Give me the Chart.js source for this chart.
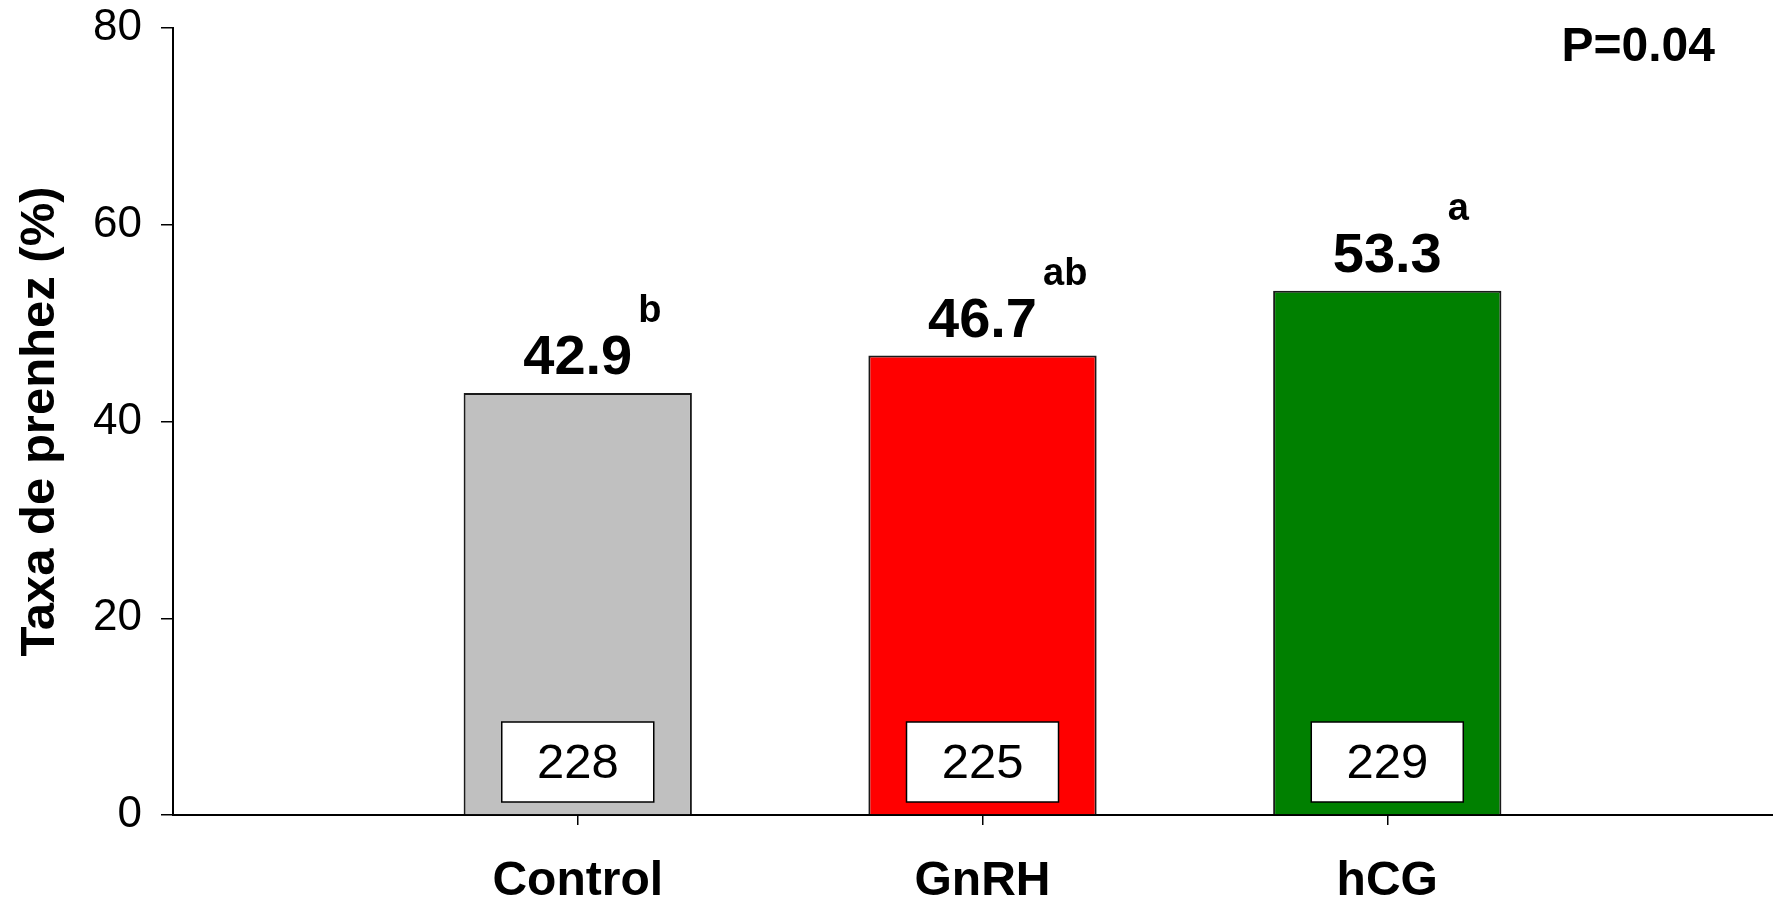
<!DOCTYPE html>
<html>
<head>
<meta charset="utf-8">
<title>Taxa de prenhez</title>
<script src="https://cdn.jsdelivr.net/npm/chart.js@4/dist/chart.umd.min.js"></script>
<style>
    html, body { margin: 0; padding: 0; background: #ffffff; }
    #chart { display: block; }
</style>
</head>
<body>
<canvas id="chart" width="1773" height="901"></canvas>
<script>
// 데이터
const categories = ['Control', 'GnRH', 'hCG'];
const pregnancyRate = [42.9, 46.7, 53.3];
const letters = ['b', 'ab', 'a'];
const counts = [228, 225, 229];
const barColors = ['#c0c0c0', '#ff0000', '#008000'];
const yTicks = [0, 20, 40, 60, 80];
const pValueText = 'P=0.04';

const FONT = '"Liberation Sans", Arial, sans-serif';

// 막대 위 주석 (값, 유의성 문자, n 상자)
const annotatePlugin = {
    id: 'annotate',
    afterDatasetsDraw(chart) {
        const ctx = chart.ctx;
        const meta = chart.getDatasetMeta(0);
        const base = chart.scales.y.getPixelForValue(0);
        ctx.save();
        meta.data.forEach((bar, i) => {
            // 값 라벨
            const valueText = pregnancyRate[i].toFixed(1);
            ctx.font = 'bold 56px ' + FONT;
            ctx.fillStyle = '#000';
            ctx.textAlign = 'center';
            ctx.textBaseline = 'alphabetic';
            const valueY = bar.y - 19;
            ctx.fillText(valueText, bar.x, valueY);
            const w = ctx.measureText(valueText).width;

            // 유의성 문자
            ctx.font = 'bold 38px ' + FONT;
            ctx.textAlign = 'left';
            ctx.fillText(letters[i], bar.x + w / 2 + 6, valueY - 52);

            // n 상자
            const boxW = 152, boxH = 80;
            const boxBottom = base - 13;
            ctx.fillStyle = '#fff';
            ctx.strokeStyle = '#000';
            ctx.lineWidth = 1.5;
            ctx.fillRect(bar.x - boxW / 2, boxBottom - boxH, boxW, boxH);
            ctx.strokeRect(bar.x - boxW / 2, boxBottom - boxH, boxW, boxH);
            ctx.fillStyle = '#000';
            ctx.font = '49px ' + FONT;
            ctx.textAlign = 'center';
            ctx.textBaseline = 'middle';
            ctx.fillText(String(counts[i]), bar.x, boxBottom - boxH / 2 + 2);
        });

        // P 값
        const area = chart.chartArea;
        ctx.font = 'bold 48px ' + FONT;
        ctx.fillStyle = '#000';
        ctx.textAlign = 'right';
        ctx.textBaseline = 'alphabetic';
        ctx.fillText(pValueText, area.right - 58, area.top + 33);
        ctx.restore();
    }
};

const ctx = document.getElementById('chart');
new Chart(ctx, {
    type: 'bar',
    data: {
        datasets: [{
            data: pregnancyRate.map((v, i) => ({ x: i + 1, y: v })),
            backgroundColor: barColors,
            borderColor: '#1a1a1a',
            borderWidth: 2,
            categoryPercentage: 1,
            barPercentage: 0.564
        }]
    },
    options: {
        responsive: false,
        animation: false,
        devicePixelRatio: 1,
        layout: {
            padding: { left: 11, top: 28, right: 0, bottom: 0 }
        },
        plugins: {
            legend: { display: false },
            tooltip: { enabled: false }
        },
        scales: {
            x: {
                type: 'linear',
                offset: false,
                min: 0,
                max: 3.953,
                afterBuildTicks: (scale) => {
                    scale.ticks = categories.map((c, i) => ({ value: i + 1 }));
                },
                afterFit: (scale) => {
                    scale.height = 86;
                },
                ticks: {
                    callback: (v) => categories[v - 1],
                    color: '#000',
                    padding: 33,
                    maxRotation: 0,
                    font: { family: FONT, size: 48, weight: 'bold', lineHeight: 1.0 }
                },
                grid: {
                    offset: false,
                    drawOnChartArea: false,
                    tickLength: 10,
                    color: '#000',
                    lineWidth: 1.5
                },
                border: { display: true, color: '#000', width: 2 }
            },
            y: {
                min: 0,
                max: 80,
                afterBuildTicks: (scale) => {
                    scale.ticks = yTicks.map(v => ({ value: v }));
                },
                afterFit: (scale) => {
                    scale.width = 162;
                    scale.paddingTop = 0;
                    scale.paddingBottom = 0;
                },
                ticks: {
                    color: '#000',
                    padding: 19,
                    font: { family: FONT, size: 44 }
                },
                grid: {
                    drawOnChartArea: false,
                    tickLength: 12,
                    color: '#000',
                    lineWidth: 1.5
                },
                border: { display: true, color: '#000', width: 2 },
                title: {
                    display: true,
                    text: 'Taxa de prenhez (%)',
                    color: '#000',
                    padding: { top: 0, bottom: 6 },
                    font: { family: FONT, size: 49, weight: 'bold' }
                }
            }
        }
    },
    plugins: [annotatePlugin]
});
</script>
</body>
</html>
